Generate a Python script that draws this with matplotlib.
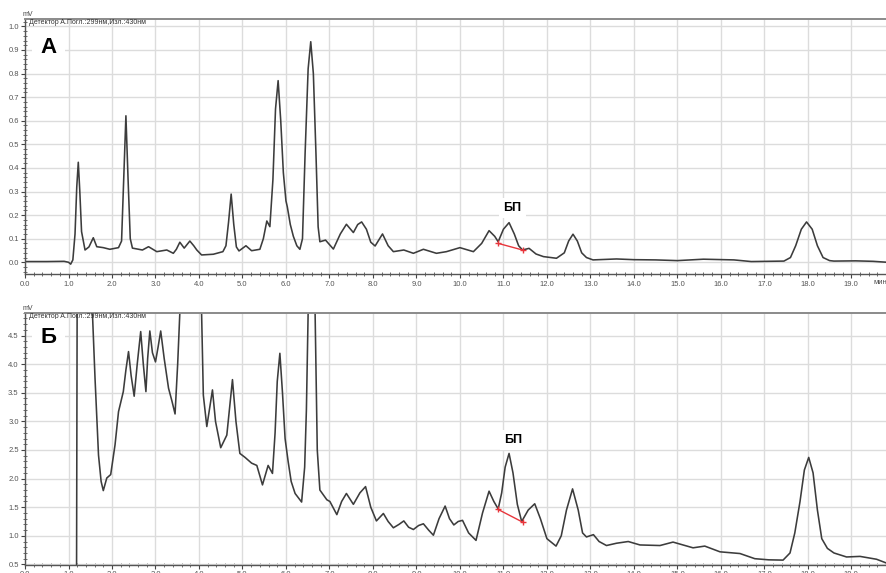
import numpy as np
import matplotlib
matplotlib.use("Agg")
import matplotlib.pyplot as plt
from matplotlib.ticker import MultipleLocator, FormatStrFormatter

plt.rcParams['font.family'] = ['Liberation Sans', 'DejaVu Sans']

# ===== Данные: хроматограмма А (мВ) =====
time_a = [0.0, 0.5, 0.9, 1.0, 1.05, 1.10, 1.15, 1.19, 1.225, 1.26, 1.30, 1.38, 1.47, 1.57,
          1.65, 1.80, 1.95, 2.15, 2.22, 2.27, 2.32, 2.37, 2.42, 2.47, 2.61, 2.70, 2.84, 3.03,
          3.26, 3.41, 3.48, 3.56, 3.66, 3.79, 3.88, 3.95, 4.06, 4.33, 4.55, 4.62, 4.68, 4.74,
          4.80, 4.86, 4.92, 5.08, 5.21, 5.40, 5.48, 5.56, 5.63, 5.70, 5.76, 5.82, 5.88, 5.94,
          6.00, 6.03, 6.10, 6.17, 6.25, 6.32, 6.38, 6.44, 6.51, 6.57, 6.63, 6.69, 6.74, 6.78,
          6.91, 7.09, 7.25, 7.39, 7.55, 7.65, 7.74, 7.85, 7.95, 8.05, 8.22, 8.35, 8.47, 8.71,
          8.93, 9.16, 9.46, 9.69, 10.0, 10.31, 10.50, 10.67, 10.80, 10.88, 11.00, 11.13, 11.25,
          11.35, 11.44, 11.59, 11.75, 11.92, 12.22, 12.40, 12.50, 12.60, 12.70, 12.80, 12.91,
          13.06, 13.6, 14.0, 14.5, 15.0, 15.6, 16.3, 16.7, 17.45, 17.60, 17.72, 17.85, 17.97,
          18.10, 18.22, 18.35, 18.5, 18.6, 19.1, 19.5, 19.82]
signal_a = [0.003, 0.003, 0.004, 0.0, -0.008, 0.01, 0.12, 0.32, 0.424, 0.30, 0.13, 0.052, 0.065,
            0.104, 0.066, 0.062, 0.055, 0.062, 0.09, 0.35, 0.621, 0.35, 0.10, 0.06, 0.055, 0.052,
            0.066, 0.045, 0.052, 0.038, 0.055, 0.085, 0.06, 0.09, 0.07, 0.052, 0.031, 0.034,
            0.045, 0.07, 0.17, 0.289, 0.16, 0.065, 0.048, 0.07, 0.049, 0.055, 0.10, 0.175, 0.151,
            0.35, 0.65, 0.77, 0.60, 0.38, 0.26, 0.236, 0.16, 0.11, 0.07, 0.055, 0.10, 0.46, 0.82,
            0.935, 0.80, 0.46, 0.15, 0.087, 0.094, 0.056, 0.12, 0.161, 0.126, 0.16, 0.171, 0.14,
            0.085, 0.069, 0.12, 0.07, 0.045, 0.052, 0.038, 0.055, 0.038, 0.045, 0.062, 0.045,
            0.08, 0.134, 0.11, 0.087, 0.14, 0.168, 0.12, 0.07, 0.052, 0.059, 0.035, 0.024, 0.017,
            0.04, 0.09, 0.119, 0.09, 0.04, 0.02, 0.01, 0.014, 0.011, 0.01, 0.007, 0.013, 0.01,
            0.003, 0.005, 0.02, 0.07, 0.14, 0.171, 0.14, 0.07, 0.02, 0.007, 0.005, 0.006, 0.004,
            0.0]

# ===== Данные: хроматограмма Б (мВ) =====
time_b = [0.0, 1.15, 1.185, 1.20, 1.48, 1.55, 1.61, 1.69, 1.75, 1.80, 1.88, 1.97, 2.07, 2.15,
          2.26, 2.32, 2.38, 2.44, 2.51, 2.58, 2.66, 2.72, 2.78, 2.82, 2.87, 2.93, 3.00, 3.06,
          3.12, 3.20, 3.30, 3.38, 3.45, 3.51, 3.56, 3.60, 4.00, 4.06, 4.10, 4.18, 4.24, 4.31,
          4.38, 4.50, 4.64, 4.70, 4.77, 4.85, 4.94, 5.06, 5.21, 5.33, 5.46, 5.59, 5.69, 5.75,
          5.80, 5.86, 5.92, 5.98, 6.05, 6.12, 6.21, 6.36, 6.43, 6.47, 6.51, 6.54, 6.64, 6.67,
          6.72, 6.78, 6.94, 7.01, 7.17, 7.28, 7.39, 7.55, 7.70, 7.83, 7.95, 8.08, 8.24, 8.35,
          8.47, 8.60, 8.71, 8.82, 8.93, 9.05, 9.16, 9.28, 9.39, 9.52, 9.66, 9.76, 9.86, 9.96,
          10.06, 10.20, 10.37, 10.52, 10.67, 10.78, 10.88, 10.96, 11.04, 11.13, 11.22, 11.32,
          11.42, 11.57, 11.72, 11.85, 12.0, 12.21, 12.33, 12.45, 12.59, 12.72, 12.82, 12.91,
          13.07, 13.20, 13.37, 13.60, 13.87, 14.14, 14.60, 14.90, 15.36, 15.63, 15.98, 16.44,
          16.78, 17.1, 17.43, 17.59, 17.70, 17.82, 17.92, 18.02, 18.12, 18.22, 18.32, 18.45,
          18.6, 18.89, 19.2, 19.58, 19.82]
signal_b = [0.0, 0.0, 0.3, 5.5, 5.5, 4.9, 3.75, 2.41, 1.95, 1.79, 2.01, 2.07, 2.59, 3.17, 3.52,
            3.9, 4.22, 3.8, 3.44, 4.0, 4.57, 4.0, 3.52, 4.1, 4.58, 4.2, 4.04, 4.3, 4.58, 4.1,
            3.58, 3.35, 3.13, 4.0, 4.9, 5.5, 5.5, 4.9, 3.46, 2.91, 3.2, 3.55, 3.0, 2.54, 2.76,
            3.2, 3.73, 3.0, 2.44, 2.37, 2.27, 2.23, 1.89, 2.23, 2.09, 2.8, 3.7, 4.19, 3.5, 2.7,
            2.30, 1.95, 1.74, 1.59, 2.2, 3.2, 4.9, 5.5, 5.5, 4.9, 2.5, 1.80, 1.63, 1.60, 1.37,
            1.6, 1.74, 1.55, 1.75, 1.86, 1.5, 1.26, 1.39, 1.25, 1.14, 1.2, 1.26, 1.15, 1.11,
            1.18, 1.21, 1.1, 1.01, 1.3, 1.52, 1.3, 1.19, 1.25, 1.27, 1.05, 0.92, 1.4, 1.78, 1.6,
            1.47, 1.75, 2.2, 2.44, 2.1, 1.55, 1.25, 1.45, 1.56, 1.3, 0.95, 0.82, 1.0, 1.45, 1.82,
            1.45, 1.05, 0.98, 1.02, 0.9, 0.83, 0.87, 0.90, 0.84, 0.83, 0.89, 0.79, 0.82, 0.72,
            0.69, 0.60, 0.58, 0.575, 0.70, 1.05, 1.6, 2.15, 2.37, 2.1, 1.45, 0.95, 0.78, 0.70,
            0.63, 0.64, 0.59, 0.52]

# разметка пика БП (начало и конец базовой линии)
bp_time = [10.88, 11.44]
bp_a = [0.080, 0.052]
bp_b = [1.46, 1.24]

detector = "Детектор A.Погл.:299нм,Изл.:430нм"
line_color = '#3c3c3c'

fig = plt.figure(figsize=(8.87, 5.73), dpi=100)
ax_a = fig.add_axes([0.0282, 0.5213, 0.9718, 0.4450])
ax_b = fig.add_axes([0.0282, 0.0140, 0.9718, 0.4403])


def style_axis(ax, ylim, ymajor, yminor, fmt):
    ax.set_xlim(0, 19.82)
    ax.set_ylim(*ylim)
    ax.xaxis.set_major_locator(MultipleLocator(1.0))
    ax.xaxis.set_minor_locator(MultipleLocator(0.2))
    ax.yaxis.set_major_locator(MultipleLocator(ymajor))
    ax.yaxis.set_minor_locator(MultipleLocator(yminor))
    ax.xaxis.set_major_formatter(FormatStrFormatter('%.1f'))
    ax.yaxis.set_major_formatter(FormatStrFormatter(fmt))
    ax.grid(True, which='major', color='#dcdcdc', linewidth=1.0)
    ax.set_axisbelow(True)
    ax.tick_params(which='major', direction='out', length=3, width=0.8, colors='#444444',
                   labelsize=5.5, pad=1.5, labelcolor='#555555')
    ax.tick_params(which='minor', direction='inout', length=3, width=0.6, colors='#555555')
    ax.spines['right'].set_visible(False)
    ax.spines['top'].set_color('#8a8a8a')
    ax.spines['top'].set_linewidth(1.4)
    for s in ('left', 'bottom'):
        ax.spines[s].set_color('#555555')
        ax.spines[s].set_linewidth(1.0)
    ax.text(0.1, ylim[1], detector, fontsize=5.0, color='#333333', va='top', ha='left')
    ax.text(-0.003, 1.004, 'mV', transform=ax.transAxes, fontsize=5, color='#444444',
            ha='left', va='bottom')


# ===== А =====
style_axis(ax_a, (-0.051, 1.03), 0.1, 0.02, '%.1f')
ax_a.plot(time_a, signal_a, color=line_color, linewidth=1.15)
ax_a.plot(bp_time, bp_a, color='#e8363c', linewidth=1.0)
ax_a.plot(bp_time, bp_a, linestyle='none', marker='+', color='#e8363c', markersize=5, mew=1)
ax_a.text(0.53, 0.91, 'А', fontsize=16, fontweight='bold', ha='center', va='center',
          bbox=dict(facecolor='white', edgecolor='none', pad=6))
ax_a.text(11.21, 0.23, 'БП', fontsize=9, fontweight='bold', ha='center', va='center',
          bbox=dict(facecolor='white', edgecolor='none', pad=3))
ax_a.text(19.50, -0.034, 'мин', transform=ax_a.get_xaxis_transform(), fontsize=5.5,
          color='#555555', ha='left', va='center')

# ===== Б =====
style_axis(ax_b, (0.49, 4.9), 0.5, 0.1, '%.1f')
ax_b.plot(time_b, signal_b, color=line_color, linewidth=1.15)
ax_b.plot(bp_time, bp_b, color='#e8363c', linewidth=1.0)
ax_b.plot(bp_time, bp_b, linestyle='none', marker='+', color='#e8363c', markersize=5, mew=1)
ax_b.text(0.55, 4.46, 'Б', fontsize=16, fontweight='bold', ha='center', va='center',
          bbox=dict(facecolor='white', edgecolor='none', pad=6))
ax_b.text(11.23, 2.68, 'БП', fontsize=9, fontweight='bold', ha='center', va='center',
          bbox=dict(facecolor='white', edgecolor='none', pad=3))

fig.savefig('out.png', dpi=100)
